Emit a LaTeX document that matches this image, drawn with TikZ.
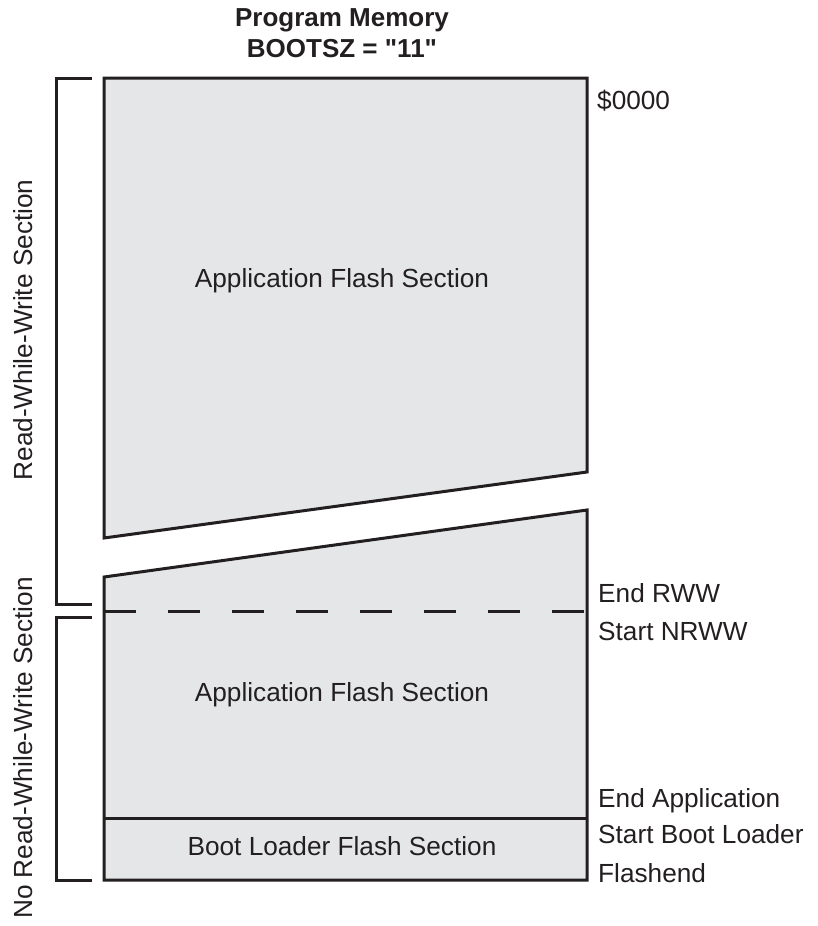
\documentclass[tikz,border=0pt]{standalone}
\usepackage{fontspec}
\setmainfont{Liberation Sans}[Ligatures=TeXOff]
\definecolor{memfill}{HTML}{E5E6E8}
\definecolor{ink}{HTML}{231F20}
\tikzset{
  x=1pt, y=-1pt,
  wall/.style={draw=ink, line width=3pt, fill=memfill},
  bracketline/.style={draw=ink, line width=3pt},
  dashline/.style={draw=ink, line width=3pt, dash pattern=on 32pt off 32pt},
  lbl/.style={font=\fontsize{26.2}{31}\selectfont, text=ink, inner sep=0pt},
  ttl/.style={font=\fontsize{26}{31}\selectfont\bfseries, text=ink, inner sep=0pt},
}
\begin{document}
\begin{tikzpicture}
\useasboundingbox (0,0) rectangle (817,926);
% upper part
\draw[wall, line join=miter] (104,78) -- (587,78) -- (587,472) -- (104,538) -- cycle;
% lower part
\draw[wall, line join=miter] (104,577) -- (587,510) -- (587,880) -- (104,880) -- cycle;
\coordinate (dl) at (104,611);
\coordinate (dr) at (587,611);
\draw[dashline] (dl) -- (dr);
\coordinate (sl) at (104,818);
\coordinate (sr) at (587,818);
\draw[draw=ink, line width=3pt] (sl) -- (sr);
% brackets
\draw[bracketline] (92,78) -- (56,78) -- (56,604) -- (92,604);
\draw[bracketline] (92,617) -- (56,617) -- (56,880) -- (92,880);
% title
\node[ttl, anchor=base] (t1) at (342,27) {Program Memory};
\node[ttl, anchor=base] (t2) at (342,57) {BOOTSZ = "11"};
% section labels
\node[lbl, anchor=base] (app1) at (342,287) {Application Flash Section};
\node[lbl, anchor=base] (app2) at (342,701) {Application Flash Section};
\node[lbl, anchor=base] (boot) at (342,855) {Boot Loader Flash Section};
% addresses
\node[lbl, anchor=base west] (a0) at (597,109) {\$0000};
\node[lbl, anchor=base west] (a1) at (598,602) {End RWW};
\node[lbl, anchor=base west] (a2) at (598,640) {Start NRWW};
\node[lbl, anchor=base west] (a3) at (598,807) {End Application};
\node[lbl, anchor=base west] (a4) at (598,843) {Start Boot Loader};
\node[lbl, anchor=base west] (a5) at (598,882) {Flashend};
% rotated labels
\node[lbl, rotate=90, anchor=base] (rww) at (32,330) {Read-While-Write Section};
\node[lbl, rotate=90, anchor=base] (nrww) at (32,748) {No Read-While-Write Section};
\end{tikzpicture}
\end{document}
